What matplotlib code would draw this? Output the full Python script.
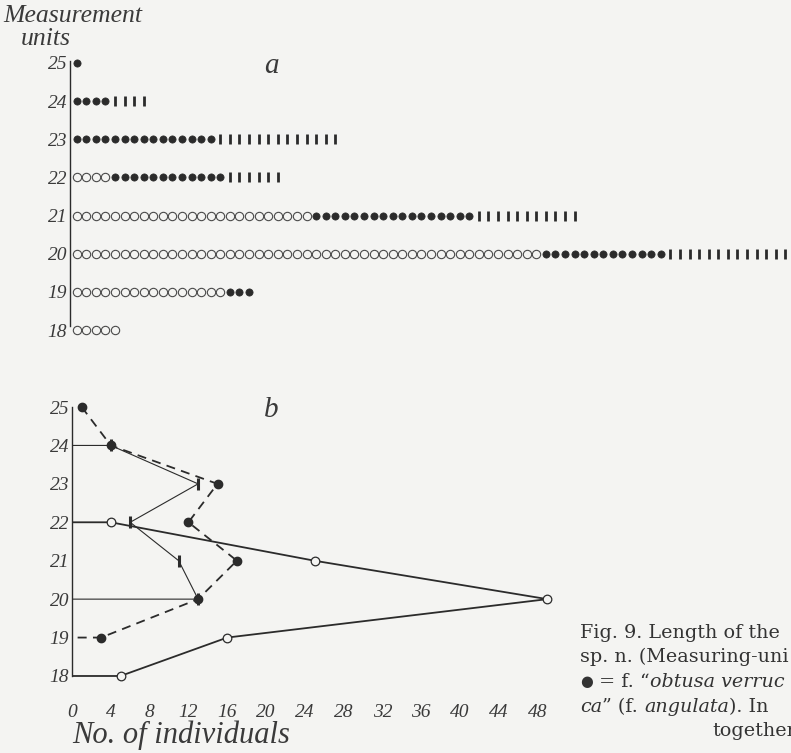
import numpy as np
import matplotlib
matplotlib.use('Agg')
import matplotlib.pyplot as plt

# counts of individuals per length class (measurement units)
rows = [25, 24, 23, 22, 21, 20, 19, 18]
n_open = [0, 0, 0, 4, 25, 49, 16, 5]      # open circles
n_filled = [1, 4, 15, 12, 17, 13, 3, 0]   # filled circles
n_bars = [0, 4, 13, 6, 11, 13, 0, 0]      # vertical bars

x_ticks_b = [0, 4, 8, 12, 16, 20, 24, 28, 32, 36, 40, 44, 48]

caption = [
    [("Fig. 9. Length of the", 'normal')],
    [("sp. n. (Measuring-uni", 'normal')],
    [("\u25CF", 'normal'), (" = f. \u201C", 'normal'), ("obtusa verruc", 'italic')],
    [("ca", 'italic'), ("\u201D (f. ", 'normal'), ("angulata", 'italic'), ("). In", 'normal')],
    [("together", 'normal')],
]

W, H = 791, 753
BG = '#f4f4f2'
INK = '#2b2b2b'
TXT = '#3a3a3a'
LABEL_FONT = 'Liberation Serif'

fig = plt.figure(figsize=(W / 100, H / 100), dpi=100, facecolor=BG)


def px_box(left, top, right, bottom):
    return [left / W, 1 - bottom / H, (right - left) / W, (bottom - top) / H]


def style_axis(ax, lo, hi):
    ax.set_facecolor('none')
    for s in ['top', 'right', 'bottom']:
        ax.spines[s].set_visible(False)
    ax.spines['left'].set_bounds(lo, hi)
    ax.spines['left'].set_color(INK)
    ax.spines['left'].set_linewidth(1.0)
    ax.set_yticks(rows)
    ax.set_yticklabels([str(r) for r in rows], fontfamily=LABEL_FONT,
                       fontstyle='italic', fontsize=14, color=TXT)
    ax.tick_params(axis='y', length=0, pad=2)
    ax.set_yticks([25], minor=True)
    ax.tick_params(axis='y', which='minor', direction='in', length=4,
                   width=1, color=INK)


# ---- panel a: one symbol per individual ----
ax_a = fig.add_axes(px_box(70, 43.9, 791, 349.1))
ax_a.set_xlim(0, 75.3)
ax_a.set_ylim(17.5, 25.5)
style_axis(ax_a, 18.1, 25.05)
ax_a.set_xticks([])

for r, no, nf, nb in zip(rows, n_open, n_filled, n_bars):
    pos = np.arange(1, no + nf + nb + 1) - 0.3
    ax_a.plot(pos[:no], [r] * no, 'o', ms=6.0, mfc='none', mec='#4a4a4a', mew=0.8)
    ax_a.plot(pos[no:no + nf], [r] * nf, 'o', ms=5.2, mfc=INK, mec=INK, mew=0.5)
    ax_a.plot(pos[no + nf:], [r] * nb, '|', ms=7.5, mec=INK, mew=2.0)

ax_a.text(0.28, 0.928, 'a', transform=ax_a.transAxes, ha='center', va='center',
          fontfamily=LABEL_FONT, fontstyle='italic', fontsize=21, color=TXT)

# ---- panel b: frequency polygons ----
ax_b = fig.add_axes(px_box(72, 387.8, 576.4, 695.2))
ax_b.set_xlim(0, 52)
ax_b.set_ylim(17.5, 25.5)
style_axis(ax_b, 18, 25)

open_rows = [r for r, n in zip(rows, n_open) if n > 0]
open_vals = [n for n in n_open if n > 0]
bar_rows = [r for r, n in zip(rows, n_bars) if n > 0]
bar_vals = [n for n in n_bars if n > 0]
fill_rows = [r for r, n in zip(rows, n_filled) if n > 0]
fill_vals = [n for n in n_filled if n > 0]

# open circles: closed back to the axis at both ends
ax_b.plot([0] + open_vals + [0], [open_rows[0]] + open_rows + [open_rows[-1]],
          '-', color=INK, lw=1.3, zorder=2)
ax_b.plot(open_vals, open_rows, 'o', ms=6.2, mfc=BG, mec=INK, mew=0.9, zorder=4)

# bars: thin solid line
ax_b.plot([0] + bar_vals + [0], [bar_rows[0]] + bar_rows + [bar_rows[-1]],
          '-', color=INK, lw=0.8, zorder=2)
ax_b.plot(bar_vals, bar_rows, '|', ms=9, mec=INK, mew=2.2, zorder=5)

# filled circles: dashed line
ax_b.plot(fill_vals + [0], fill_rows + [fill_rows[-1]], color=INK, lw=1.3,
          linestyle=(0, (5, 3.5)), zorder=3)
ax_b.plot(fill_vals, fill_rows, 'o', ms=6.0, mfc=INK, mec=INK, zorder=5)

ax_b.set_xticks(x_ticks_b)
ax_b.set_xticklabels([str(v) for v in x_ticks_b], fontfamily=LABEL_FONT,
                     fontstyle='italic', fontsize=14, color=TXT)
ax_b.tick_params(axis='x', length=0, pad=6)
ax_b.set_xlabel('No. of individuals', fontfamily=LABEL_FONT, fontstyle='italic',
                fontsize=22, color=TXT, loc='left', labelpad=0)

ax_b.text(0.395, 0.928, 'b', transform=ax_b.transAxes, ha='center', va='center',
          fontfamily=LABEL_FONT, fontstyle='italic', fontsize=21, color=TXT)

# y axis title
fig.text(3 / W, 1 - 16 / H, 'Measurement', ha='left', va='center',
         fontfamily=LABEL_FONT, fontstyle='italic', fontsize=18.5, color=TXT)
fig.text(21 / W, 1 - 39 / H, 'units', ha='left', va='center',
         fontfamily=LABEL_FONT, fontstyle='italic', fontsize=18.5, color=TXT)

# caption, cut off at the right edge like the page crop
fig.canvas.draw()
renderer = fig.canvas.get_renderer()
line_y = [633, 657, 682, 707, 731]
line_x = [580, 580, 580, 580, 712]
for pieces, ly, lx in zip(caption, line_y, line_x):
    x = lx / W
    for txt, st in pieces:
        size = 10.5 if txt == "\u25CF" else 13.8
        t = fig.text(x, 1 - ly / H, txt, ha='left', va='center',
                     fontfamily='DejaVu Serif', fontstyle=st, fontsize=size,
                     color='#333333')
        bb = t.get_window_extent(renderer)
        x = bb.x1 / W

fig.savefig('out.png', dpi=100, facecolor=BG)
